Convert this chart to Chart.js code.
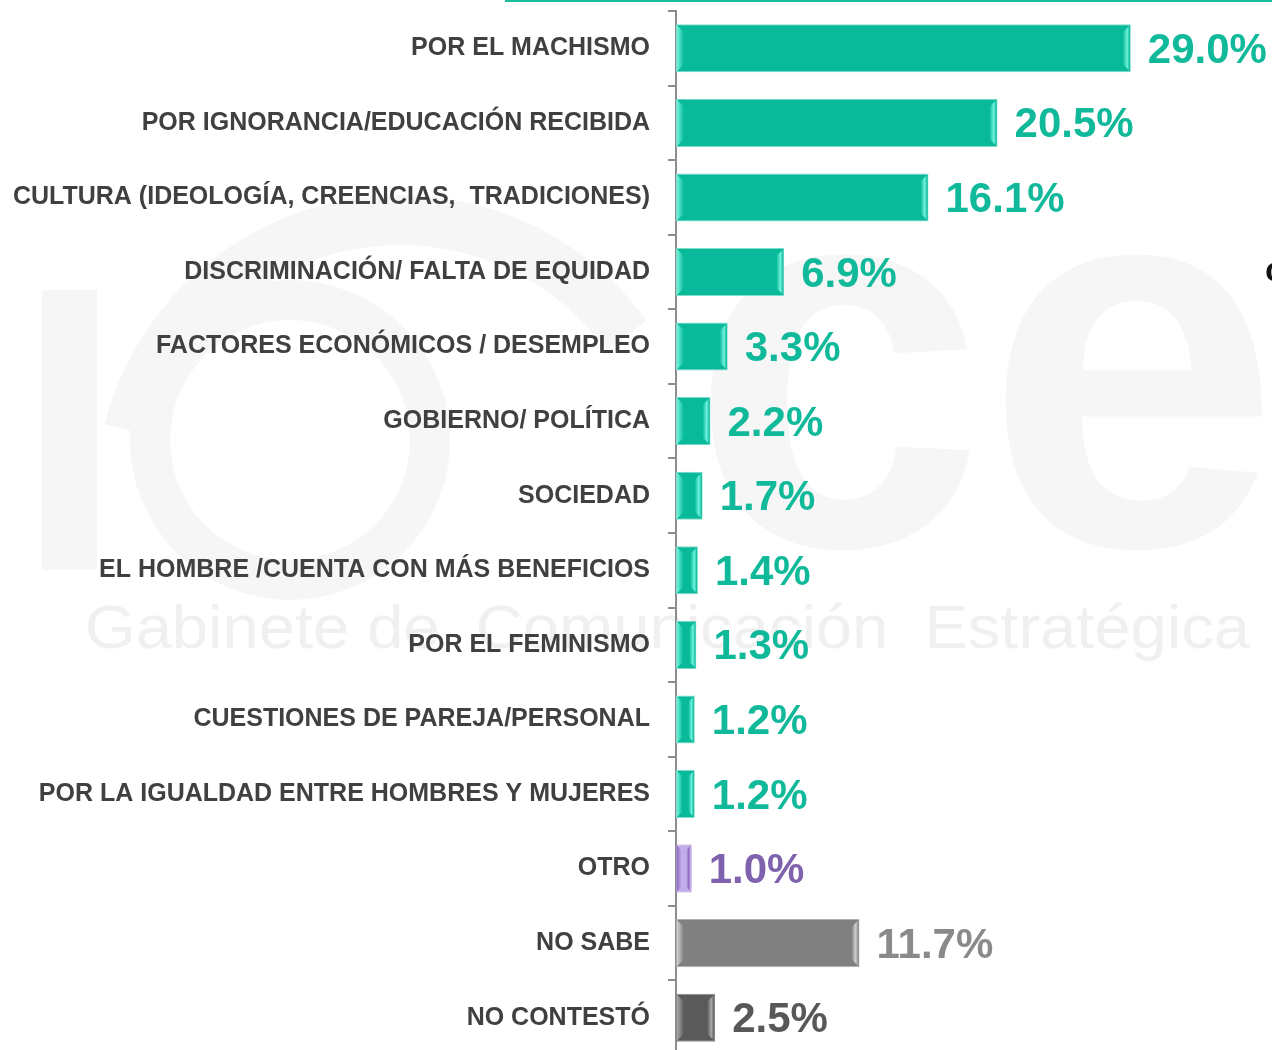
<!DOCTYPE html>
<html>
<head>
<meta charset="utf-8">
<script src="https://cdn.jsdelivr.net/npm/chart.js@4"></script>
<style>
    html, body { margin: 0; padding: 0; background: #ffffff; overflow: hidden; }
    .chart-wrapper { position: relative; width: 1272px; height: 1055px; }
</style>
</head>
<body>
<div class="chart-wrapper">
    <canvas id="causesChart"></canvas>
</div>
<script>
const categories = [
    'POR EL MACHISMO',
    'POR IGNORANCIA/EDUCACIÓN RECIBIDA',
    'CULTURA (IDEOLOGÍA, CREENCIAS,  TRADICIONES)',
    'DISCRIMINACIÓN/ FALTA DE EQUIDAD',
    'FACTORES ECONÓMICOS / DESEMPLEO',
    'GOBIERNO/ POLÍTICA',
    'SOCIEDAD',
    'EL HOMBRE /CUENTA CON MÁS BENEFICIOS',
    'POR EL FEMINISMO',
    'CUESTIONES DE PAREJA/PERSONAL',
    'POR LA IGUALDAD ENTRE HOMBRES Y MUJERES',
    'OTRO',
    'NO SABE',
    'NO CONTESTÓ'
];
const percentages = [29.0, 20.5, 16.1, 6.9, 3.3, 2.2, 1.7, 1.4, 1.3, 1.2, 1.2, 1.0, 11.7, 2.5];

// colour groups: answers, other, don't know, no answer
const TEAL = '#08b99a', PURPLE = '#c2aeea', GRAY = '#808080', DARK = '#5a5a5a';
const barColors = categories.map((c, i) => i < 11 ? TEAL : (i === 11 ? PURPLE : (i === 12 ? GRAY : DARK)));
const edgeColors = barColors.map(c => ({ [TEAL]: '#6ff3dc', [PURPLE]: '#8f6cc2', [GRAY]: '#d0d0d0', [DARK]: '#a8a8a8' })[c]);
const borderColors = barColors.map(c => ({ [TEAL]: '#7fdcc9', [PURPLE]: '#a890d6', [GRAY]: '#b0b0b0', [DARK]: '#8a8a8a' })[c]);
const valueColors = barColors.map(c => ({ [TEAL]: '#10b99a', [PURPLE]: '#7f62ad', [GRAY]: '#8a8a8a', [DARK]: '#585858' })[c]);

const FONT = '"Liberation Sans", Arial, sans-serif';

// faint logo / tagline behind everything
const watermark = {
    id: 'watermark',
    beforeDraw(chart) {
        const ctx = chart.ctx;
        ctx.save();
        ctx.fillStyle = '#f6f6f6';
        ctx.strokeStyle = '#f6f6f6';

        // left swirl of the logo
        ctx.lineWidth = 50;
        ctx.beginPath();
        ctx.arc(400, 500, 280, Math.PI * 1.08, Math.PI * 1.8);
        ctx.stroke();
        ctx.lineWidth = 40;
        ctx.beginPath();
        ctx.arc(290, 440, 140, 0, Math.PI * 2);
        ctx.stroke();
        ctx.fillRect(42, 290, 55, 280);

        // big "ce"
        ctx.font = 'bold 540px ' + FONT;
        const w = ctx.measureText('ce').width;
        ctx.save();
        ctx.translate(690, 545);
        ctx.scale(590 / w, 1);
        ctx.textBaseline = 'alphabetic';
        ctx.fillText('ce', 0, 0);
        ctx.restore();

        // tagline
        ctx.fillStyle = '#f0f0f0';
        ctx.font = '62px ' + FONT;
        const tag = 'Gabinete de  Comunicación  Estratégica';
        const tw = ctx.measureText(tag).width;
        ctx.save();
        ctx.translate(85, 648);
        ctx.scale(1165 / tw, 1);
        ctx.fillText(tag, 0, 0);
        ctx.restore();

        // top rule and cut-off mark at the right edge
        ctx.fillStyle = '#1abc9c';
        ctx.fillRect(505, 0, 767, 2);
        ctx.fillStyle = '#111111';
        ctx.font = 'bold 34px ' + FONT;
        ctx.textBaseline = 'middle';
        ctx.fillText('c', 1265, 272);
        ctx.restore();
    }
};

// bevelled ends on each bar plus the value labels
const barDecor = {
    id: 'barDecor',
    afterDatasetsDraw(chart) {
        const ctx = chart.ctx;
        const meta = chart.getDatasetMeta(0);
        meta.data.forEach((bar, i) => {
            const { x, y, base, height } = bar.getProps(['x', 'y', 'base', 'height'], true);
            const left = base + 1, right = x - 1;
            const top = y - height / 2 + 1, bottom = y + height / 2 - 1;
            const b = Math.min(7, (right - left) / 3);

            ctx.save();
            let g = ctx.createLinearGradient(left, 0, left + b, 0);
            g.addColorStop(0, edgeColors[i]);
            g.addColorStop(1, barColors[i]);
            ctx.fillStyle = g;
            ctx.beginPath();
            ctx.moveTo(left, top);
            ctx.lineTo(left + b, top + b);
            ctx.lineTo(left + b, bottom - b);
            ctx.lineTo(left, bottom);
            ctx.closePath();
            ctx.fill();

            g = ctx.createLinearGradient(right - b, 0, right, 0);
            g.addColorStop(0, barColors[i]);
            g.addColorStop(0.6, edgeColors[i]);
            g.addColorStop(1, barColors[i]);
            ctx.fillStyle = g;
            ctx.beginPath();
            ctx.moveTo(right, top);
            ctx.lineTo(right - b, top + b);
            ctx.lineTo(right - b, bottom - b);
            ctx.lineTo(right, bottom);
            ctx.closePath();
            ctx.fill();

            ctx.fillStyle = valueColors[i];
            ctx.font = 'bold 42px ' + FONT;
            ctx.textAlign = 'left';
            ctx.textBaseline = 'middle';
            ctx.fillText(percentages[i].toFixed(1) + '%', x + 17, y + 3);
            ctx.restore();
        });
    }
};

const ctx = document.getElementById('causesChart').getContext('2d');
new Chart(ctx, {
    type: 'bar',
    data: {
        labels: categories,
        datasets: [{
            data: percentages,
            backgroundColor: barColors,
            borderColor: borderColors,
            borderWidth: 1,
            borderSkipped: false,
            barPercentage: 0.645,
            categoryPercentage: 1
        }]
    },
    options: {
        indexAxis: 'y',
        responsive: true,
        maintainAspectRatio: false,
        animation: false,
        layout: { padding: { top: 11, left: 0, right: 0, bottom: 0 } },
        scales: {
            x: {
                display: false,
                min: 0,
                max: 38
            },
            y: {
                afterFit(scale) {
                    scale.width = 676;
                    scale.paddingTop = 0;
                    scale.paddingBottom = 0;
                },
                border: { display: true, color: '#8c8c8c', width: 2 },
                grid: { drawOnChartArea: false, tickLength: 8, color: '#8c8c8c', lineWidth: 2, offset: true },
                ticks: {
                    autoSkip: false,
                    padding: 18,
                    color: '#404040',
                    font: { family: FONT, size: 25, weight: 'bold' }
                }
            }
        },
        plugins: {
            legend: { display: false },
            tooltip: { enabled: false }
        }
    },
    plugins: [watermark, barDecor]
});
</script>
</body>
</html>
